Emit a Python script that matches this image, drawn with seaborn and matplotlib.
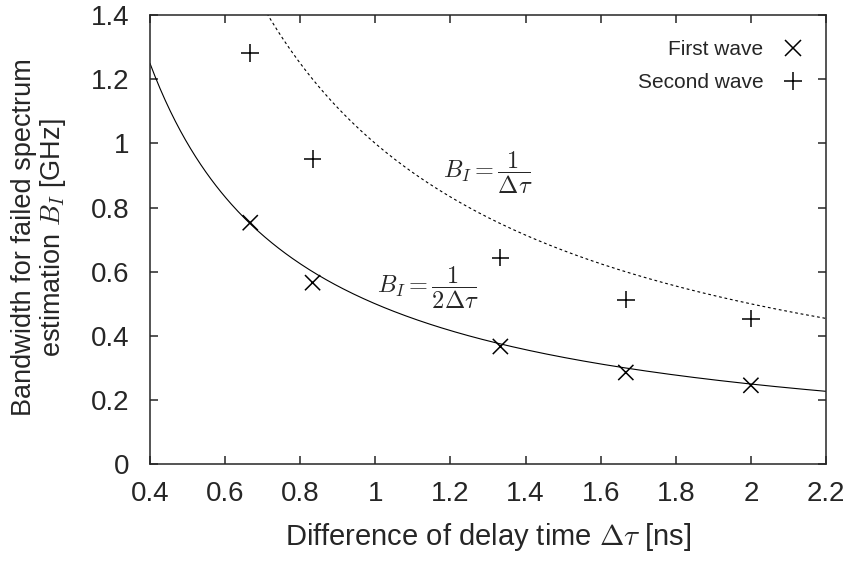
import numpy as np
import pandas as pd
import seaborn as sns
import matplotlib
matplotlib.use("Agg")
import matplotlib.pyplot as plt

# data
delay = [0.667, 0.833, 1.333, 1.667, 2.0]
first_wave = [0.753, 0.566, 0.367, 0.286, 0.246]
second_wave = [1.282, 0.952, 0.644, 0.513, 0.454]

x_ticks = [0.4, 0.6, 0.8, 1.0, 1.2, 1.4, 1.6, 1.8, 2.0, 2.2]
x_tick_labels = ["0.4", "0.6", "0.8", "1", "1.2", "1.4", "1.6", "1.8", "2", "2.2"]
y_ticks = [0, 0.2, 0.4, 0.6, 0.8, 1.0, 1.2, 1.4]
y_tick_labels = ["0", "0.2", "0.4", "0.6", "0.8", "1", "1.2", "1.4"]

sns.set_style("ticks")
plt.rcParams["font.family"] = ["Liberation Sans", "DejaVu Sans"]
plt.rcParams["mathtext.fontset"] = "cm"

df = pd.DataFrame({
    "delay": delay * 2,
    "bw": first_wave + second_wave,
    "wave": ["First wave"] * 5 + ["Second wave"] * 5,
})

fig = plt.figure(figsize=(8.52, 5.62), dpi=100)
ax = fig.add_axes([0.176, 0.174, 0.7935, 0.799])

# theory curves
xs = np.linspace(0.4, 2.2, 400)
ax.plot(xs, 1 / (2 * xs), color="black", lw=0.8)
ax.plot(xs, 1 / xs, color="black", lw=0.8, linestyle=(0, (2.5, 2.5)))

sns.scatterplot(data=df, x="delay", y="bw", style="wave", size="wave",
                markers={"First wave": "x", "Second wave": "+"},
                sizes={"First wave": 120, "Second wave": 160},
                color="black", linewidth=1.1, ax=ax)

ax.text(1.18, 0.91, r"$B_I = \dfrac{1}{\Delta\tau}$", fontsize=17.5, va="center")
ax.text(1.004, 0.55, r"$B_I = \dfrac{1}{2\Delta\tau}$", fontsize=17.5, va="center")

ax.set_xlim(0.4, 2.2)
ax.set_ylim(0, 1.4)
ax.set_xticks(x_ticks)
ax.set_xticklabels(x_tick_labels)
ax.set_yticks(y_ticks)
ax.set_yticklabels(y_tick_labels)
ax.tick_params(direction="in", top=True, right=True, length=6, width=1.1,
               labelsize=20)
ax.tick_params(axis="x", pad=12)
ax.tick_params(axis="y", pad=15)
for sp in ax.spines.values():
    sp.set_visible(True)
    sp.set_linewidth(1.1)

ax.set_xlabel(r"Difference of delay time $\Delta\tau$ [ns]", fontsize=21, labelpad=10)
ax.set_ylabel("Bandwidth for failed spectrum\nestimation $B_I$ [GHz]", fontsize=19.5,
              linespacing=1.05)
ax.yaxis.set_label_coords(-0.121, 0.505)

leg = ax.legend(loc="upper right", bbox_to_anchor=(1.0, 0.972), frameon=False,
                markerfirst=False, fontsize=15, handletextpad=0.4,
                borderaxespad=0.2, labelspacing=0.68)

fig.savefig("out.png", dpi=100)
